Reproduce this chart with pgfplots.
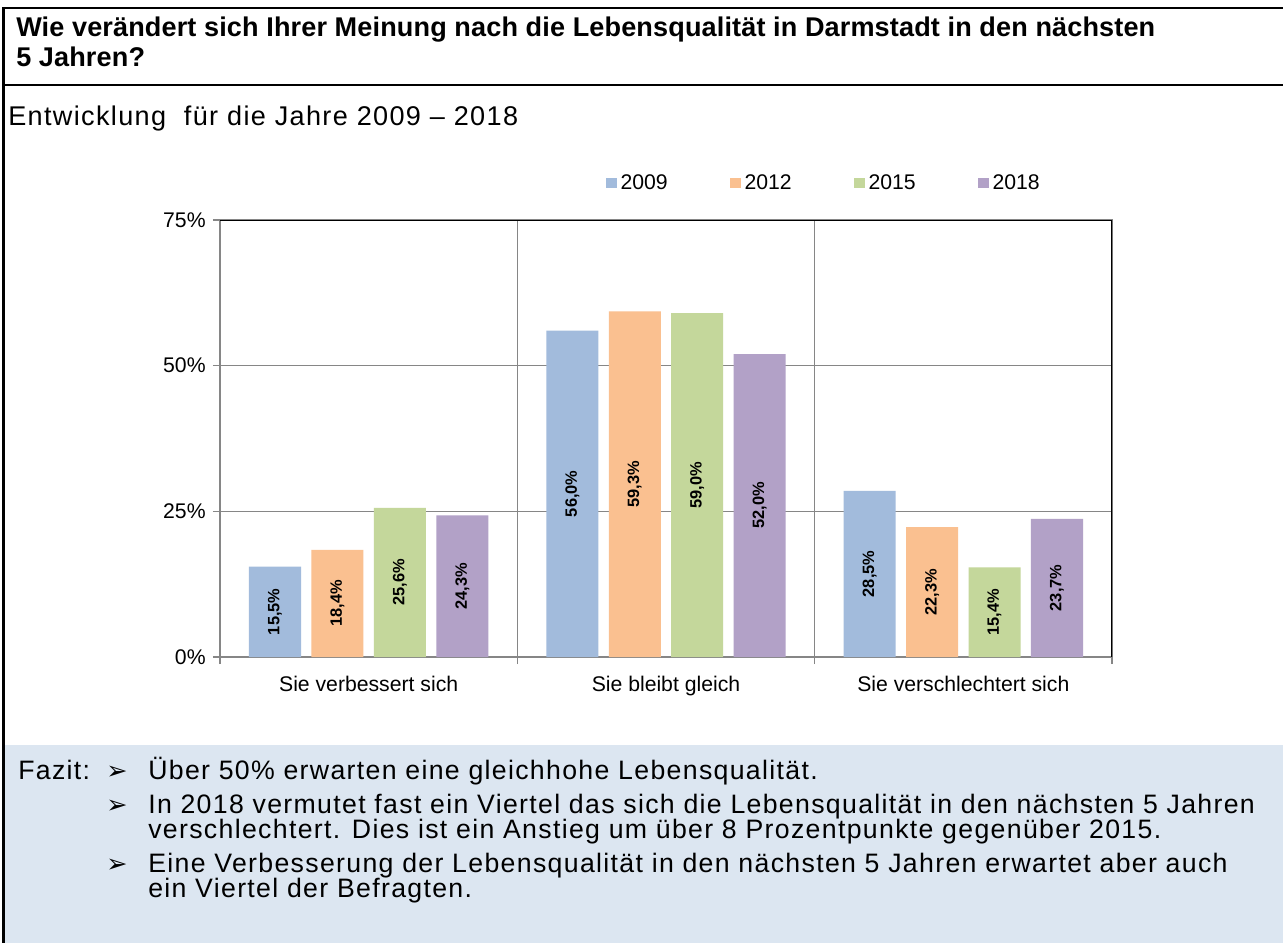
\documentclass[border=0pt]{standalone}
\usepackage{fontspec}
\setmainfont{Liberation Sans}
\newfontfamily\bodyfont[LetterSpace=5]{Liberation Sans}
\newfontfamily\titlefont[LetterSpace=0.5]{Liberation Sans}
\newfontfamily\symfont{DejaVu Sans}
\usepackage{pgfplots}
\usepackage{pgfplotstable}
\pgfplotsset{compat=1.18}
\definecolor{c09}{HTML}{A2BBDC}
\definecolor{c12}{HTML}{FAC090}
\definecolor{c15}{HTML}{C4D79B}
\definecolor{c18}{HTML}{B2A1C7}
\definecolor{gridgray}{RGB}{134,134,134}
\definecolor{fazitblue}{HTML}{DCE6F1}
\pgfplotstableread{
x y09 y12 y15 y18
0 15.5 18.4 25.6 24.3
1 56.0 59.3 59.0 52.0
2 28.5 22.3 15.4 23.7
}\data
\newcommand{\bodysize}{\fontsize{20pt}{23pt}\selectfont}
\begin{document}
\begin{tikzpicture}
\begin{scope}[x=0.75pt,y=-0.75pt]
\useasboundingbox (0,0) rectangle (1283,943);
\fill[white] (0,0) rectangle (1283,943);
\fill[fazitblue] (3,745) rectangle (1283,943);
% title
\node[anchor=base west, inner sep=0pt, font=\titlefont\bfseries\fontsize{20.3pt}{24pt}\selectfont] at (16,36) {Wie verändert sich Ihrer Meinung nach die Lebensqualität in Darmstadt in den nächsten};
\node[anchor=base west, inner sep=0pt, font=\titlefont\bfseries\fontsize{20.3pt}{24pt}\selectfont] at (16,66) {5 Jahren?};
\node[anchor=base west, inner sep=0pt, font=\bodyfont\fontsize{20.3pt}{23pt}\selectfont] at (8,125) {Entwicklung\ \ für die Jahre 2009 – 2018};
% Fazit
\node[anchor=base west, inner sep=0pt, font=\bodyfont\bodysize] at (18,779) {Fazit:};
\foreach \yy in {779,813,872}{
  \node[anchor=base west, inner sep=0pt, font=\symfont\fontsize{19pt}{22pt}\selectfont] at (106,\yy) {➢};
}
\node[anchor=base west, inner sep=0pt, font=\bodyfont\bodysize] at (148,779) {Über 50\% erwarten eine gleichhohe Lebensqualität.};
\node[anchor=base west, inner sep=0pt, font=\bodyfont\bodysize] at (148,813) {In 2018 vermutet fast ein Viertel das sich die Lebensqualität in den nächsten 5 Jahren};
\node[anchor=base west, inner sep=0pt, font=\bodyfont\bodysize] at (148,838) {verschlechtert. Dies ist ein Anstieg um über 8 Prozentpunkte gegenüber 2015.};
\node[anchor=base west, inner sep=0pt, font=\bodyfont\bodysize] at (148,872) {Eine Verbesserung der Lebensqualität in den nächsten 5 Jahren erwartet aber auch};
\node[anchor=base west, inner sep=0pt, font=\bodyfont\bodysize] at (148,897) {ein Viertel der Befragten.};
% frame lines
\draw[line width=1.9pt] (2,8) -- (1283,8);
\draw[line width=1.9pt] (2,85) -- (1283,85);
\draw[line width=1.9pt] (3.5,7) -- (3.5,943);
\end{scope}
\begin{axis}[
  at={(165pt,-492.75pt)}, anchor=south west,
  scale only axis, width=669pt, height=327.75pt,
  xmin=-0.5, xmax=2.5, ymin=0, ymax=75,
  ybar, bar width=0.175,
  axis line style={gridgray, line width=1.1pt},
  xtick={-0.5,0.5,1.5,2.5}, xticklabels={},
  ytick={0,25,50,75}, yticklabels={0\%,25\%,50\%,75\%},
  xtick pos=left, ytick pos=left,
  tick align=outside, major tick length=5.25pt,
  tick style={gridgray, line width=1.1pt},
  xmajorgrids, ymajorgrids,
  grid style={gridgray, line width=1.1pt},
  tick label style={font=\fontsize{15.9pt}{18pt}\selectfont},
  yticklabel style={xshift=-2pt},
  extra x ticks={0,1,2},
  extra x tick labels={Sie verbessert sich, Sie bleibt gleich, Sie verschlechtert sich},
  extra x tick style={major tick length=0pt, grid=none, tick label style={yshift=-11pt}},
  point meta=y,
  visualization depends on=rawy \as \rawy,
  nodes near coords={\pgfmathprintnumber[fixed,fixed zerofill,precision=1,use comma,assume math mode=true]{\pgfplotspointmeta}\%},
  every node near coord/.append style={font=\bfseries\fontsize{12.3pt}{14pt}\selectfont, anchor=center, shift={(axis direction cs:0,-\rawy/2)}, rotate=90, text=black},
  legend columns=4,
  legend style={at={(0.4327,1.0847)}, anchor=west, draw=none, fill=none, inner sep=0pt, outer sep=0pt,
    font=\fontsize{15.9pt}{18pt}\selectfont, nodes={inner sep=0pt, anchor=west},
    /tikz/every odd column/.append style={column sep=3pt},
    /tikz/every even column/.append style={column sep=46.6pt}},
  legend image code/.code={\fill[#1] (0pt,-4pt) rectangle (8pt,4pt);},
]
\addplot[fill=c09, draw=none, bar shift=-0.315] table[x=x,y=y09]{\data};
\addplot[fill=c12, draw=none, bar shift=-0.105] table[x=x,y=y12]{\data};
\addplot[fill=c15, draw=none, bar shift=0.105] table[x=x,y=y15]{\data};
\addplot[fill=c18, draw=none, bar shift=0.315] table[x=x,y=y18]{\data};
\legend{2009,2012,2015,2018}
\draw[black, line width=1.3pt] (rel axis cs:0,1) -- (rel axis cs:1,1) -- (rel axis cs:1,0);
\end{axis}
\end{tikzpicture}
\end{document}
